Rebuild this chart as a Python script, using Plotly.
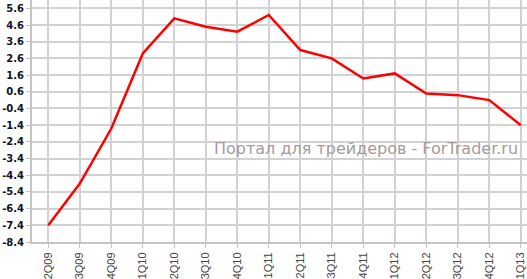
import plotly.graph_objects as go

quarters = ["2Q09", "3Q09", "4Q09", "1Q10", "2Q10", "3Q10", "4Q10", "1Q11",
            "2Q11", "3Q11", "4Q11", "1Q12", "2Q12", "3Q12", "4Q12", "1Q13"]
values = [-7.4, -4.9, -1.6, 2.9, 5.0, 4.5, 4.2, 5.2,
          3.1, 2.6, 1.4, 1.7, 0.5, 0.4, 0.1, -1.4]
y_ticks = [5.6, 4.6, 3.6, 2.6, 1.6, 0.6, -0.4, -1.4, -2.4, -3.4, -4.4, -5.4, -6.4, -7.4, -8.4]
watermark = "Портал для трейдеров - ForTrader.ru"

fig = go.Figure()
fig.add_trace(go.Scatter(
    x=list(range(len(quarters))), y=values, mode="lines",
    line=dict(color="#ff0000", width=2.5), hoverinfo="skip", showlegend=False,
))

fig.update_layout(
    width=527, height=279,
    margin=dict(l=32, r=0, t=0, b=34),
    paper_bgcolor="white", plot_bgcolor="white",
    xaxis=dict(
        range=[-0.517, 15.197],
        tickmode="array", tickvals=list(range(len(quarters))), ticktext=quarters,
        tickangle=-90,
        tickfont=dict(family="Liberation Sans, Arial", size=11, color="#444444"),
        showgrid=True, gridcolor="#d2d2d2", gridwidth=1.5,
        showline=True, linecolor="#c4c4c4", linewidth=2,
        ticks="outside", ticklen=4, tickcolor="#c4c4c4", tickwidth=1,
        zeroline=False, fixedrange=True,
    ),
    yaxis=dict(
        range=[-8.4, 6.1],
        tickmode="array", tickvals=y_ticks, ticktext=[f"{v:.1f}" for v in y_ticks],
        tickfont=dict(family="DejaVu Sans, Verdana", size=10, color="#10102a", weight="bold"),
        showgrid=True, gridcolor="#d2d2d2", gridwidth=1.5,
        showline=True, linecolor="#c4c4c4", linewidth=2,
        ticks="outside", ticklen=4, tickcolor="#c4c4c4", tickwidth=1,
        zeroline=False, fixedrange=True,
    ),
    annotations=[dict(
        text=watermark, xref="paper", yref="paper",
        x=0.985, y=0.385, xanchor="right", yanchor="middle",
        showarrow=False,
        font=dict(family="DejaVu Sans, Verdana", size=16, color="#a89a9a"),
    )],
)

fig.write_html("out.html")
